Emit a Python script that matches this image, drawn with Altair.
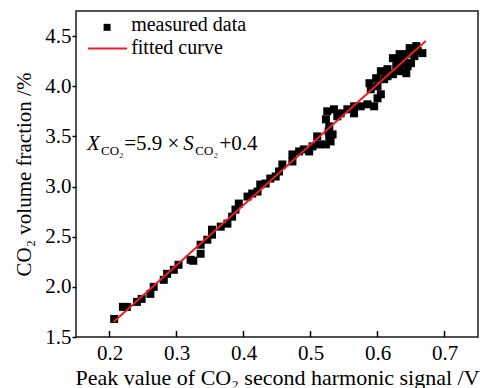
import altair as alt
import pandas as pd

# ---------------- data ----------------
meas_x = [0.207, 0.220, 0.226, 0.241, 0.248, 0.261, 0.266, 0.281, 0.286, 0.296,
          0.303, 0.321, 0.325, 0.336, 0.336, 0.346, 0.353, 0.353, 0.366, 0.376,
          0.383, 0.388, 0.393, 0.406, 0.413, 0.421, 0.425, 0.433, 0.440, 0.448,
          0.453, 0.458, 0.473, 0.473, 0.483, 0.490, 0.498, 0.503, 0.510, 0.513,
          0.523, 0.530, 0.533, 0.528, 0.527, 0.528, 0.523, 0.525, 0.535, 0.540,
          0.545, 0.555, 0.565, 0.565, 0.575, 0.585, 0.595, 0.600, 0.605, 0.590,
          0.588, 0.598, 0.600, 0.605, 0.615, 0.610, 0.615, 0.623, 0.633, 0.643,
          0.635, 0.628, 0.623, 0.633, 0.643, 0.640, 0.648, 0.658, 0.655, 0.660,
          0.667, 0.650, 0.645, 0.630]
meas_y = [1.68, 1.80, 1.80, 1.85, 1.88, 1.93, 2.00, 2.07, 2.13, 2.17,
          2.22, 2.27, 2.26, 2.33, 2.42, 2.47, 2.52, 2.57, 2.60, 2.63,
          2.70, 2.77, 2.83, 2.90, 2.93, 2.95, 3.02, 3.03, 3.08, 3.10,
          3.15, 3.22, 3.25, 3.32, 3.35, 3.37, 3.35, 3.40, 3.50, 3.42,
          3.42, 3.45, 3.52, 3.50, 3.55, 3.60, 3.67, 3.75, 3.77, 3.70,
          3.73, 3.77, 3.80, 3.73, 3.80, 3.82, 3.80, 3.88, 3.92, 3.97,
          4.03, 4.08, 4.00, 4.15, 4.17, 4.07, 4.10, 4.12, 4.15, 4.13,
          4.22, 4.20, 4.28, 4.32, 4.32, 4.25, 4.38, 4.40, 4.30, 4.35,
          4.33, 4.23, 4.20, 4.25]

fit_x = [0.206, 0.672]
fit_y = [1.65, 4.45]

x_ticks = [0.2, 0.3, 0.4, 0.5, 0.6, 0.7]
y_ticks = [1.5, 2.0, 2.5, 3.0, 3.5, 4.0, 4.5]

legend_labels = ["measured data", "fitted curve"]

x_title = "Peak value of CO\u2082 second harmonic signal /V"
y_title = "CO\u2082 volume fraction /%"

# equation pieces (text, x, y in data units)
eq_main_text = ["X", "=5.9 \u00d7", "S", "+0.4"]
eq_main_x = [0.1665, 0.2219, 0.3102, 0.3641]
eq_main_style = ["italic", "normal", "italic", "normal"]
eq_main_y = 3.36
eq_sub_text = ["CO\u2082", "CO\u2082"]
eq_sub_x = [0.1874, 0.3281]
eq_sub_y = 3.317

# legend anchor positions (data units)
leg_marker = (0.1964, 4.587)
leg_line = (0.168, 0.2263, 4.377)
leg_text_x = 0.2323
leg_text_y = [4.55, 4.317]

# ---------------- chart ----------------
FONT = "Liberation Serif"
W, H = 402, 326
xs = alt.Scale(domain=[0.15, 0.75], nice=False, zero=False)
ys = alt.Scale(domain=[1.5, 4.75], nice=False, zero=False)

x_axis = alt.Axis(values=x_ticks, format=".1f", tickSize=0, labelFont=FONT,
                  labelFontSize=21, labelColor="black", labelPadding=5,
                  titleFont=FONT, titleFontSize=22, titleFontWeight="normal",
                  titleColor="black", titleY=47, titleBaseline="alphabetic",
                  domain=False, grid=False, labelOverlap=False)
y_axis = alt.Axis(values=y_ticks, format=".1f", tickSize=4, tickWidth=1.5,
                  tickColor="black", labelFont=FONT, labelFontSize=21,
                  labelColor="black", labelPadding=1, titleFont=FONT,
                  titleFontSize=21, titleFontWeight="normal", titleColor="black",
                  titleX=-46, titleBaseline="alphabetic", domain=False,
                  grid=False, labelOverlap=False)


def X(field="x:Q"):
    return alt.X(field, scale=xs, axis=x_axis, title=x_title)


def Y(field="y:Q"):
    return alt.Y(field, scale=ys, axis=y_axis, title=y_title)


df_meas = pd.DataFrame({"x": meas_x, "y": meas_y})
df_fit = pd.DataFrame({"x": fit_x, "y": fit_y})
df_xt = pd.DataFrame({"x": x_ticks})

points = alt.Chart(df_meas).mark_square(size=64, color="black", opacity=1).encode(
    x=X(), y=Y())

fit = alt.Chart(df_fit).mark_line(color="#ee1c24", strokeWidth=2).encode(
    x=X(), y=Y())

xticks = alt.Chart(df_xt).mark_rule(color="black", strokeWidth=1.5).encode(
    x=X(), y=alt.value(H - 6), y2=alt.value(H))

# legend
df_lm = pd.DataFrame({"x": [leg_marker[0]], "y": [leg_marker[1]]})
leg_pt = alt.Chart(df_lm).mark_square(size=49, color="black", opacity=1).encode(
    x=X(), y=Y())
df_ll = pd.DataFrame({"x": [leg_line[0]], "x2": [leg_line[1]], "y": [leg_line[2]]})
leg_ln = alt.Chart(df_ll).mark_rule(color="#ee1c24", strokeWidth=2).encode(
    x=X(), x2="x2:Q", y=Y())
df_lt = pd.DataFrame({"x": [leg_text_x] * 2, "y": leg_text_y, "t": legend_labels})
leg_tx = alt.Chart(df_lt).mark_text(font=FONT, fontSize=20, align="left",
                                     baseline="alphabetic", color="black").encode(
    x=X(), y=Y(), text="t:N")

# equation
df_em = pd.DataFrame({"x": eq_main_x, "y": [eq_main_y] * 4, "t": eq_main_text,
                      "s": eq_main_style})
eq_it = alt.Chart(df_em).transform_filter(alt.datum.s == "italic").mark_text(
    font=FONT, fontSize=21, fontStyle="italic", align="left",
    baseline="alphabetic", color="black").encode(x=X(), y=Y(), text="t:N")
eq_no = alt.Chart(df_em).transform_filter(alt.datum.s == "normal").mark_text(
    font=FONT, fontSize=21, align="left", baseline="alphabetic",
    color="black").encode(x=X(), y=Y(), text="t:N")
df_es = pd.DataFrame({"x": eq_sub_x, "y": [eq_sub_y] * 2, "t": eq_sub_text})
eq_sub = alt.Chart(df_es).mark_text(font=FONT, fontSize=13, align="left",
                                     baseline="alphabetic", color="black").encode(
    x=X(), y=Y(), text="t:N")

chart = alt.layer(points, fit, xticks, leg_pt, leg_ln, leg_tx, eq_it, eq_no,
                  eq_sub).properties(
    width=W, height=H,
    padding={"left": 76, "top": 11, "right": 9, "bottom": 51},
    autosize=alt.AutoSizeParams(type="none"),
    background="white",
).configure_view(stroke="#1a1a1a", strokeWidth=1.5)

chart.save("out.html", embed_options={"renderer": "svg", "actions": False})
